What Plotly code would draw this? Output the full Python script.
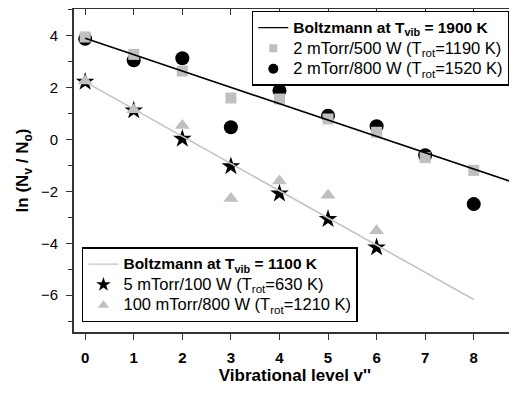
import plotly.graph_objects as go

# ---- data ----
levels = [0, 1, 2, 3, 4, 5, 6, 7, 8]
sq_2mT_500W = [3.95, 3.28, 2.64, 1.60, 1.56, 0.79, 0.28, -0.70, -1.19]
circ_2mT_800W = [3.88, 3.05, 3.13, 0.47, 1.88, 0.92, 0.51, -0.61, -2.49]

levels_b = [0, 1, 2, 3, 4, 5, 6]
star_5mT_100W = [2.22, 1.12, 0.03, -1.03, -2.08, -3.07, -4.16]
tri_100mT_800W = [2.25, 1.15, 0.54, -2.27, -1.60, -2.15, -3.52]

boltz1900_v = [0, 9]
boltz1900_y = [3.90, -1.77]
boltz1100_v = [0, 8]
boltz1100_y = [2.22, -6.17]

x_ticks = [0, 1, 2, 3, 4, 5, 6, 7, 8]
y_ticks = [-6, -4, -2, 0, 2, 4]

BOLD = '<span style="font-size:15.5px"><b>{}</b></span>'
REG = '<span style="font-size:16.5px">{}</span>'
names = {
    "b1900": BOLD.format("Boltzmann at T<sub>vib</sub> = 1900 K"),
    "sq": REG.format("2 mTorr/500 W (T<sub>rot</sub>=1190 K)"),
    "circ": REG.format("2 mTorr/800 W (T<sub>rot</sub>=1520 K)"),
    "b1100": BOLD.format("Boltzmann at T<sub>vib</sub> = 1100 K"),
    "star": REG.format("5 mTorr/100 W (T<sub>rot</sub>=630 K)"),
    "tri": REG.format("100 mTorr/800 W (T<sub>rot</sub>=1210 K)"),
}

XR = [-0.23, 8.87]
YR = [-7.42, 5.03]

GRAY = "#c0c0c0"
FONT = "Liberation Sans, Arial, Helvetica, sans-serif"

fig = go.Figure()

# ---- plotted marks (drawing order: circles, squares, stars, triangles, lines) ----
fig.add_trace(go.Scatter(x=levels, y=circ_2mT_800W, mode="markers", showlegend=False,
                         marker=dict(symbol="circle", size=14, color="black")))
fig.add_trace(go.Scatter(x=levels, y=sq_2mT_500W, mode="markers", showlegend=False,
                         marker=dict(symbol="square", size=11, color=GRAY)))
fig.add_trace(go.Scatter(x=levels_b, y=star_5mT_100W, mode="markers", showlegend=False,
                         marker=dict(symbol="star", size=14, color="black")))
fig.add_trace(go.Scatter(x=levels_b, y=tri_100mT_800W, mode="markers", showlegend=False,
                         marker=dict(symbol="triangle-up", size=13, color=GRAY)))
fig.add_trace(go.Scatter(x=boltz1100_v, y=boltz1100_y, mode="lines", showlegend=False,
                         line=dict(color="#c4c4c4", width=1.6)))
fig.add_trace(go.Scatter(x=boltz1900_v, y=boltz1900_y, mode="lines", showlegend=False,
                         line=dict(color="black", width=1.6)))

# ---- legend entries (smaller symbols, like the reference legend) ----
def leg(name, legend, **kw):
    fig.add_trace(go.Scatter(x=[None], y=[None], name=name, legend=legend,
                             hoverinfo="skip", **kw))

leg(names["b1900"], "legend", mode="lines", line=dict(color="black", width=1.3))
leg(names["sq"], "legend", mode="markers", marker=dict(symbol="square", size=8, color=GRAY))
leg(names["circ"], "legend", mode="markers", marker=dict(symbol="circle", size=10, color="black"))
leg(names["b1100"], "legend2", mode="lines", line=dict(color="#c4c4c4", width=1.3))
leg(names["star"], "legend2", mode="markers", marker=dict(symbol="star", size=11, color="black"))
leg(names["tri"], "legend2", mode="markers", marker=dict(symbol="triangle-up", size=10, color=GRAY))

# invisible trace for mirrored (inside) ticks on top/right
fig.add_trace(go.Scatter(x=[None], y=[None], xaxis="x2", yaxis="y2",
                         showlegend=False, hoverinfo="skip"))

axcol = "#333333"
# the page body adds an 8 px offset, so the figure is shifted accordingly
fig.update_layout(
    width=509, height=386,
    margin=dict(l=66, r=1, t=1, b=62, autoexpand=False),
    paper_bgcolor="white", plot_bgcolor="white",
    font=dict(family=FONT, color="black", size=14),
    xaxis=dict(range=XR, tickvals=x_ticks, ticks="outside", ticklen=6,
               tickwidth=1.3, tickcolor=axcol, automargin=False,
               ticklabelstandoff=5,
               showline=True, linecolor=axcol, linewidth=1.8,
               showgrid=False, zeroline=False,
               tickfont=dict(size=15, family=FONT, weight="bold"),
               title=dict(text="<b>Vibrational level v''</b>",
                          font=dict(size=17), standoff=4)),
    yaxis=dict(range=YR, tickvals=y_ticks, ticks="outside", ticklen=6,
               tickwidth=1.3, tickcolor=axcol, automargin=False,
               ticklabelstandoff=5,
               minor=dict(dtick=1, tick0=0, ticks="outside", ticklen=4,
                          tickwidth=1.3, tickcolor=axcol),
               showline=True, linecolor=axcol, linewidth=1.8,
               showgrid=False, zeroline=False,
               tickfont=dict(size=15, family=FONT),
               title=dict(text="<b>ln (N<sub>v</sub> / N<sub>o</sub>)</b>",
                          font=dict(size=17), standoff=8)),
    xaxis2=dict(range=XR, overlaying="x", side="top", anchor="y2",
                tickvals=x_ticks, ticks="inside", ticklen=6, tickwidth=1.3,
                tickcolor=axcol, showticklabels=False, automargin=False,
                showline=True, linecolor=axcol, linewidth=1.8,
                showgrid=False, zeroline=False),
    yaxis2=dict(range=YR, overlaying="y", side="right", anchor="x2",
                tickvals=y_ticks, ticks="inside", ticklen=6, tickwidth=1.3,
                tickcolor=axcol, showticklabels=False, automargin=False,
                minor=dict(dtick=1, tick0=0, ticks="inside", ticklen=4,
                           tickwidth=1.3, tickcolor=axcol),
                showline=True, linecolor=axcol, linewidth=1.8,
                showgrid=False, zeroline=False),
    legend=dict(x=0.986, y=0.994, xanchor="right", yanchor="top",
                bgcolor="white", bordercolor="black", borderwidth=1.5,
                font=dict(size=13.5, family=FONT), tracegroupgap=0,
                traceorder="normal"),
    legend2=dict(x=0.018, y=0.03, xanchor="left", yanchor="bottom",
                 bgcolor="white", bordercolor="black", borderwidth=1.5,
                 font=dict(size=13.5, family=FONT), tracegroupgap=0,
                 traceorder="normal"),
    showlegend=True,
)

fig.write_html("out.html")
